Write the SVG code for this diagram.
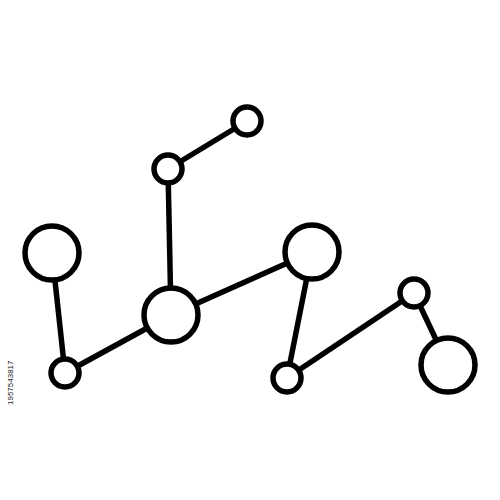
<svg xmlns="http://www.w3.org/2000/svg" width="500" height="500" viewBox="0 0 500 500">
<style>
.e{stroke:#000;stroke-width:5.5;fill:none}
.n circle{stroke:#000;stroke-width:5.5;fill:#fff}
.id{font-family:"Liberation Sans",Arial,sans-serif;font-size:8px;fill:#222}
</style>
<rect width="500" height="500" fill="#fff"/>
<g id="connectors" class="e">
<line x1="52" y1="253" x2="65" y2="373"/>
<line x1="65" y1="373" x2="171" y2="315"/>
<line x1="171" y1="315" x2="168" y2="169"/>
<line x1="168" y1="169" x2="247" y2="121"/>
<line x1="171" y1="315" x2="312" y2="252"/>
<line x1="312" y1="252" x2="287" y2="378"/>
<line x1="287" y1="378" x2="414" y2="293"/>
<line x1="414" y1="293" x2="448" y2="365"/>
</g>
<g class="n">
<g id="n1"><circle cx="52" cy="253" r="27"/></g>
<g id="n2"><circle cx="65" cy="373" r="14"/></g>
<g id="n3"><circle cx="171" cy="315" r="27"/></g>
<g id="n4"><circle cx="168" cy="169" r="14"/></g>
<g id="n5"><circle cx="247" cy="121" r="14"/></g>
<g id="n6"><circle cx="312" cy="252" r="27"/></g>
<g id="n7"><circle cx="287" cy="378" r="14"/></g>
<g id="n8"><circle cx="414" cy="293" r="14"/></g>
<g id="n9"><circle cx="448" cy="365" r="27"/></g>
</g>
<text class="id" transform="translate(13,405) rotate(-90)">1957543817</text>
</svg>
